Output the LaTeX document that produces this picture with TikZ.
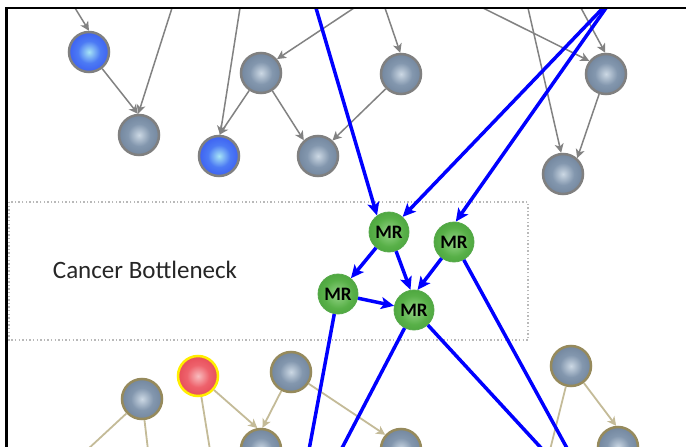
\documentclass[tikz,border=0pt]{standalone}
\usepackage{fontspec}
\setmainfont{Carlito}
\usetikzlibrary{arrows.meta}
\definecolor{gc0}{HTML}{CCD8E4}
\definecolor{gc1}{HTML}{8397AE}
\definecolor{gc2}{HTML}{5A6D86}
\definecolor{bc0}{HTML}{A6E4F6}
\definecolor{bc1}{HTML}{4C7AF4}
\definecolor{bc2}{HTML}{2438EE}
\definecolor{mc0}{HTML}{96D588}
\definecolor{mc1}{HTML}{58B048}
\definecolor{mc2}{HTML}{36902C}
\definecolor{rc0}{HTML}{F8BCBE}
\definecolor{rc1}{HTML}{EE626C}
\definecolor{rc2}{HTML}{DC2C3A}
\definecolor{gborder}{HTML}{808080}
\definecolor{tborder}{HTML}{968A5C}
\definecolor{gedge}{HTML}{828282}
\definecolor{tedge}{HTML}{C4BB98}
\definecolor{mborder}{HTML}{58AA4C}
\definecolor{yborder}{HTML}{FFEE00}
\definecolor{bline}{HTML}{0000FF}
\pgfdeclareradialshading{grayballsh}{\pgfpointorigin}{color(0bp)=(gc0); color(14bp)=(gc1); color(44bp)=(gc2); color(50bp)=(gc2)}
\pgfdeclareradialshading{blueballsh}{\pgfpointorigin}{color(0bp)=(bc0); color(14bp)=(bc1); color(44bp)=(bc2); color(50bp)=(bc2)}
\pgfdeclareradialshading{greenballsh}{\pgfpointorigin}{color(0bp)=(mc0); color(18bp)=(mc1); color(46bp)=(mc2); color(50bp)=(mc2)}
\pgfdeclareradialshading{redballsh}{\pgfpointorigin}{color(0bp)=(rc0); color(14bp)=(rc1); color(44bp)=(rc2); color(50bp)=(rc2)}
\tikzset{
  ball/.style={circle, minimum size=40pt, inner sep=0pt, line width=2.5pt},
  graynode/.style={ball, draw=gborder, shade, shading=grayballsh},
  bluenode/.style={ball, draw=gborder, shade, shading=blueballsh},
  tannode/.style={ball, draw=tborder, shade, shading=grayballsh},
  rednode/.style={ball, draw=yborder, shade, shading=redballsh},
  mrnode/.style={ball, line width=0.8pt, draw=mborder, shade, shading=greenballsh,
    font=\bfseries\fontsize{19}{21}\selectfont, text=black},
  garrow/.style={draw=gedge, line width=1.5pt, -{Stealth[length=9pt,width=9pt,inset=2.5pt]}},
  tarrow/.style={draw=tedge, line width=1.8pt, -{Stealth[length=9pt,width=9pt,inset=2.5pt]}},
  tline/.style={draw=tedge, line width=1.8pt},
  barrow/.style={draw=bline, line width=3.5pt, -{Stealth[length=13pt,width=12pt,inset=3pt]}},
  blueline/.style={draw=bline, line width=3.5pt},
}
\begin{document}
\begin{tikzpicture}[x=1pt,y=-1pt]
\useasboundingbox (0,0) rectangle (686,447);
\clip (0,0) rectangle (686,447);
\fill[white] (0,0) rectangle (686,447);

% dotted bottleneck box
\draw[gray!55, line width=1.3pt, dash pattern=on 1.4pt off 2.2pt] (9,202) rectangle (528,340);
\node[font=\fontsize{25}{30}\selectfont, text=black!85, anchor=base] (lbl) at (145,278) {Cancer Bottleneck};

% top nodes
\node[bluenode] (B1) at (89,52) {};
\node[graynode] (G1) at (139,135) {};
\node[graynode] (G2) at (261,73) {};
\node[bluenode] (B2) at (219,156) {};
\node[graynode] (G3) at (318,156) {};
\node[graynode] (G4) at (401,74) {};
\node[graynode] (G5) at (606,74) {};
\node[graynode] (G6) at (563,174) {};

% MR nodes
\node[mrnode] (MR1) at (389,232) {MR};
\node[mrnode] (MR2) at (454,242) {MR};
\node[mrnode] (MR3) at (338,294) {MR};
\node[mrnode] (MR4) at (414,310) {MR};

% bottom nodes
\node[tannode] (T1) at (142,399) {};
\node[rednode] (R) at (198,376) {};
\node[tannode] (T2) at (291,372) {};
\node[tannode] (T3) at (261,449) {};
\node[tannode] (T4) at (401,449) {};
\node[tannode] (T5) at (571,366) {};
\node[tannode] (T6) at (618,447) {};

% free ends
\coordinate (c1) at (75,8);
\coordinate (c2) at (172,8);
\coordinate (c3) at (240,8);
\coordinate (c4) at (354,8);
\coordinate (c5) at (385,8);
\coordinate (c6) at (483,8);
\coordinate (c7) at (528,8);
\coordinate (c8) at (581,8);
\coordinate (c9) at (316,8);
\coordinate (c10) at (603,8);
\coordinate (c11) at (606,8);
\coordinate (d1) at (309,450);
\coordinate (d2) at (341,450);
\coordinate (d3) at (543,450);
\coordinate (d4) at (568,450);
\coordinate (e1) at (87,450);
\coordinate (e2) at (148,450);
\coordinate (e3) at (210,450);
\coordinate (e4) at (550,450);

% gray edges
\draw[garrow] (c1) -- (B1.90);
\draw[garrow] (c2) -- (G1.92);
\draw[garrow] (B1) -- (G1.93);
\draw[garrow] (c3) -- (B2.87);
\draw[garrow] (G2) -- (B2.89);
\draw[garrow] (G2) -- (G3.132);
\draw[garrow] (c4) -- (G2.41);
\draw[garrow] (c5) -- (G4.92);
\draw[garrow] (G4) -- (G3.47);
\draw[garrow] (c6) -- (G5.142);
\draw[garrow] (c8) -- (G5.92);
\draw[garrow] (c7) -- (G6.95);
\draw[garrow] (G5) -- (G6.48);

% tan edges
\draw[tline] (T1) -- (e1);
\draw[tline] (T1) -- (e2);
\draw[tline] (R) -- (e3);
\draw[tarrow] (R) -- (T3.100);
\draw[tarrow] (T2) -- (T3.86);
\draw[tarrow] (T2) -- (T4.138);
\draw[tline] (T5) -- (e4);
\draw[tarrow] (T5) -- (T6.95);

% blue edges
\draw[barrow] (c9) -- (MR1.126);
\draw[barrow] (c10) -- (MR1.48);
\draw[barrow] (c11) -- (MR2.85);
\draw[barrow] (MR1) -- (MR3);
\draw[barrow] (MR1) -- (MR4.100);
\draw[barrow] (MR2) -- (MR4.80);
\draw[barrow] (MR3) -- (MR4);
\draw[blueline] (MR3) -- (d1);
\draw[blueline] (MR4) -- (d2);
\draw[blueline] (MR4) -- (d3);
\draw[blueline] (MR2) -- (d4);

% frame
\draw[line width=2.7pt, black] (6.5,447) -- (6.5,8) -- (686,8);
\end{tikzpicture}
\end{document}
